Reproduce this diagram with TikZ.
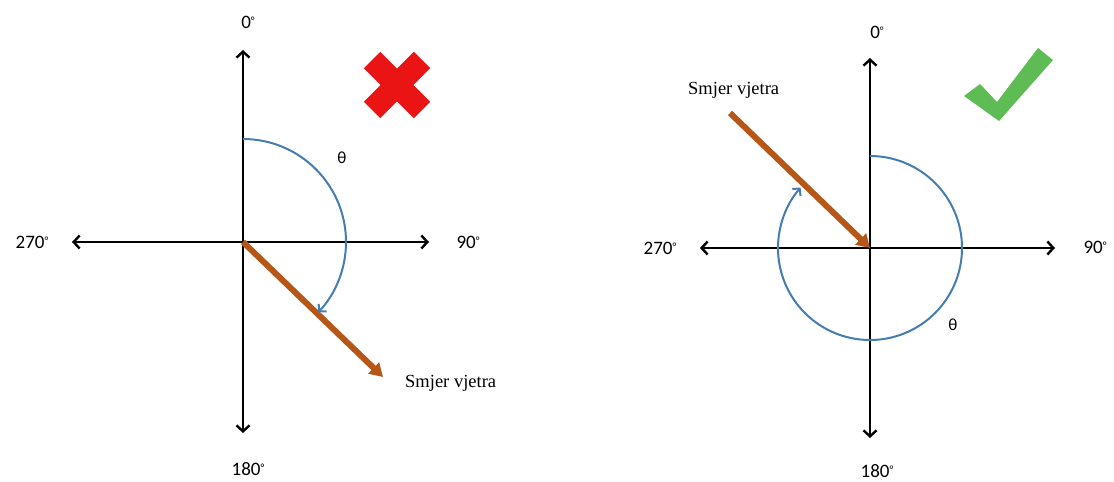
\documentclass[tikz,border=0pt]{standalone}
\usepackage{fontspec}
\usetikzlibrary{arrows.meta, calc}
\newfontfamily\calfont{Carlito}
\newfontfamily\serfont{Liberation Serif}
\definecolor{windbrown}{RGB}{182,87,24}
\definecolor{arcblue}{RGB}{70,125,175}
\definecolor{wrongred}{RGB}{235,20,20}
\definecolor{rightgreen}{RGB}{95,188,85}
\newcommand{\dgr}{\raisebox{4pt}{\fontsize{11}{11}\selectfont°}}
\tikzset{
    axisarr/.style={{Straight Barb[length=6pt,width=13pt]}-{Straight Barb[length=6pt,width=13pt]}, line width=2.4pt, black},
    windarr/.style={-{Triangle[length=13pt,width=15pt]}, line width=6pt, color=windbrown},
    anglearc/.style={-{Straight Barb[length=5pt,width=11pt]}, line width=2pt, color=arcblue},
    deglbl/.style={font=\calfont\fontsize{19}{22}\selectfont, inner sep=0pt},
    thetalbl/.style={font=\calfont\fontsize{17}{20}\selectfont, inner sep=0pt},
    windlbl/.style={font=\serfont\fontsize{18.5}{21}\selectfont, inner sep=0pt, anchor=west}
}
\begin{document}
\begin{tikzpicture}[x=1pt, y=-1pt]
    \useasboundingbox (0,0) rectangle (1114,482);
    \fill[white] (0,0) rectangle (1114,482);

    % LEFT (wrong)
    \coordinate (lo) at (243,242);
    \coordinate (lN) at (243,50);
    \coordinate (lS) at (243,433);
    \coordinate (lW) at (72,242);
    \coordinate (lE) at (429,242);
    \draw[axisarr] (lW) -- (lE);
    \draw[axisarr] (lS) -- (lN);
    \node[deglbl] (lblN) at (248,22) {0\dgr};
    \node[deglbl] (lblS) at (248,469) {180\dgr};
    \node[deglbl] (lblW) at (32,242) {270\dgr};
    \node[deglbl] (lblE) at (468,242) {90\dgr};

    \coordinate (lwind) at (383,377);
    \draw[windarr] (lo) -- (lwind);
    \node[windlbl] (lwindlbl) at (405,383) {Smjer vjetra};

    \coordinate (larcstart) at (243,139);
    \draw[anglearc] (larcstart) arc[start angle=-90, end angle=43, radius=103];
    \node[thetalbl] (ltheta) at (342,158) {θ};

    % red cross
    \coordinate (xc) at (397,85);
    \draw[wrongred, line width=23pt] ($(xc)+(-25,-25)$) -- ($(xc)+(25,25)$);
    \draw[wrongred, line width=23pt] ($(xc)+(25,-25)$) -- ($(xc)+(-25,25)$);

    % RIGHT (correct)
    \coordinate (ro) at (870,248);
    \coordinate (rN) at (870,58);
    \coordinate (rS) at (870,438);
    \coordinate (rW) at (700,248);
    \coordinate (rE) at (1055,248);
    \draw[axisarr] (rW) -- (rE);
    \draw[axisarr] (rS) -- (rN);
    \node[deglbl] (rblN) at (877,32) {0\dgr};
    \node[deglbl] (rblS) at (877,471) {180\dgr};
    \node[deglbl] (rblW) at (660,248) {270\dgr};
    \node[deglbl] (rblE) at (1095,247) {90\dgr};

    \coordinate (rwind) at (730,113);
    \draw[windarr] (rwind) -- (ro);
    \node[windlbl] (rwindlbl) at (688,90) {Smjer vjetra};

    \coordinate (rarcstart) at (870,156);
    \draw[anglearc] (rarcstart) arc[start angle=-90, end angle=221, radius=92];
    \node[thetalbl] (rtheta) at (953,325) {θ};

    % green tick
    \fill[rightgreen] (964,96) -- (980,84) -- (997,102) -- (1038,48) -- (1053,60) -- (999,121) -- cycle;
\end{tikzpicture}
\end{document}
